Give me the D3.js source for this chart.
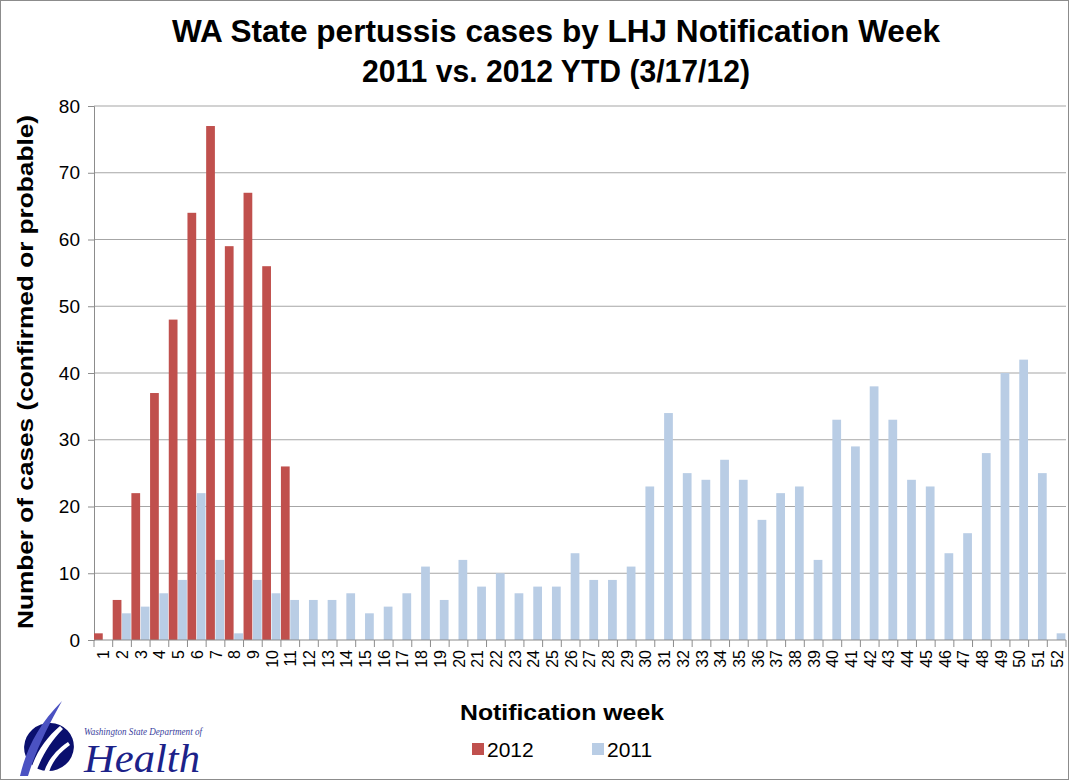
<!DOCTYPE html>
<html>
<head>
<meta charset="utf-8">
<script src="https://cdn.jsdelivr.net/npm/d3@7"></script>
<style>
  body { margin: 0; background: #fff; }
  text { font-family: "Liberation Sans", Arial, sans-serif; }
</style>
</head>
<body>
<svg id="chart" width="1070" height="782"></svg>
<script>
// weeks 1..52
const weeks = d3.range(1, 53).map(String);
// 2012 YTD, weeks 1-11
const cases2012 = [1, 6, 22, 37, 48, 64, 77, 59, 67, 56, 26];
// 2011, weeks 1-52
const cases2011 = [0, 4, 5, 7, 9, 22, 12, 1, 9, 7, 6, 6, 6, 7, 4, 5, 7, 11, 6, 12,
  8, 10, 7, 8, 8, 13, 9, 9, 11, 23, 34, 25, 24, 27, 24, 18, 22, 23, 12, 33,
  29, 38, 33, 24, 23, 13, 16, 28, 40, 42, 25, 1];
const yTicks = [0, 10, 20, 30, 40, 50, 60, 70, 80];
const seriesNames = ["2012", "2011"];
const colors = {"2012": "#C0504D", "2011": "#B9CDE5"};

const svg = d3.select("#chart");

// outer frame
svg.append("rect")
    .attr("x", 0.5).attr("y", 0.5)
    .attr("width", 1068).attr("height", 779)
    .attr("fill", "white")
    .attr("stroke", "#8c8c8c");

const margin = {left: 94, right: 1066, top: 106, bottom: 640};

let x = d3.scaleBand()
    .domain(weeks)
    .range([margin.left, margin.right])
    .paddingInner(0).paddingOuter(0);

let xSeries = d3.scaleBand()
    .domain(seriesNames)
    .range([0, x.bandwidth()])
    .padding(0);

let y = d3.scaleLinear()
    .domain([0, 80])
    .range([margin.bottom, margin.top]);

// gridlines
svg.append("g")
    .selectAll("line")
    .data(yTicks.filter(d => d > 0))
    .enter()
    .append("line")
    .attr("x1", margin.left).attr("x2", margin.right)
    .attr("y1", d => y(d)).attr("y2", d => y(d))
    .attr("stroke", "#a6a6a6")
    .attr("stroke-width", 1.2);

// y axis
let yAxis = svg.append("g")
    .attr("transform", `translate(${margin.left},0)`)
    .call(d3.axisLeft(y).tickValues(yTicks).tickSize(6).tickPadding(8));
yAxis.select(".domain").attr("stroke", "#8c8c8c");
yAxis.selectAll(".tick line").attr("stroke", "#8c8c8c");
yAxis.selectAll(".tick text")
    .attr("font-size", 19)
    .attr("fill", "#000")
    .style("font-family", "'Liberation Sans', Arial, sans-serif");

// bars
let data = [];
weeks.forEach((w, i) => {
    if (i < cases2012.length) data.push({week: w, series: "2012", value: cases2012[i]});
    data.push({week: w, series: "2011", value: cases2011[i]});
});

svg.append("g")
    .selectAll("rect")
    .data(data.filter(d => d.value > 0))
    .enter()
    .append("rect")
    .attr("x", d => x(d.week) + xSeries(d.series))
    .attr("width", xSeries.bandwidth() - 0.6)
    .attr("y", d => y(d.value))
    .attr("height", d => y(0) - y(d.value))
    .attr("fill", d => colors[d.series]);

// x axis
let xAxisG = svg.append("g")
    .attr("transform", `translate(0,${margin.bottom})`);
xAxisG.append("line")
    .attr("x1", margin.left).attr("x2", margin.right)
    .attr("stroke", "#8c8c8c");
xAxisG.selectAll(".tk")
    .data(weeks.concat(["end"]))
    .enter()
    .append("line")
    .attr("x1", (d, i) => margin.left + i * x.step())
    .attr("x2", (d, i) => margin.left + i * x.step())
    .attr("y1", 0).attr("y2", 7)
    .attr("stroke", "#8c8c8c");
xAxisG.selectAll(".lbl")
    .data(weeks)
    .enter()
    .append("text")
    .attr("transform", d => `translate(${x(d) + x.bandwidth() / 2 + 6},10) rotate(-90)`)
    .attr("text-anchor", "end")
    .attr("font-size", 16)
    .text(d => d);

// titles (condensed look of the original)
svg.append("text")
    .attr("x", 556).attr("y", 42)
    .attr("text-anchor", "middle")
    .attr("font-size", 32).attr("font-weight", "bold")
    .attr("textLength", 768).attr("lengthAdjust", "spacingAndGlyphs")
    .text("WA State pertussis cases by LHJ Notification Week");
svg.append("text")
    .attr("x", 556).attr("y", 82)
    .attr("text-anchor", "middle")
    .attr("font-size", 32).attr("font-weight", "bold")
    .attr("textLength", 388).attr("lengthAdjust", "spacingAndGlyphs")
    .text("2011 vs. 2012 YTD (3/17/12)");

svg.append("text")
    .attr("transform", "translate(33,372) rotate(-90)")
    .attr("text-anchor", "middle")
    .attr("font-size", 22).attr("font-weight", "bold")
    .attr("textLength", 514).attr("lengthAdjust", "spacingAndGlyphs")
    .text("Number of cases (confirmed or probable)");

svg.append("text")
    .attr("x", 562).attr("y", 720)
    .attr("text-anchor", "middle")
    .attr("font-size", 22).attr("font-weight", "bold")
    .attr("textLength", 204).attr("lengthAdjust", "spacingAndGlyphs")
    .text("Notification week");

// legend
let legend = svg.append("g");
let lx = [472, 592];
seriesNames.forEach((s, i) => {
    legend.append("rect")
        .attr("x", lx[i]).attr("y", 743)
        .attr("width", 12).attr("height", 12)
        .attr("fill", colors[s]);
    legend.append("text")
        .attr("x", lx[i] + 15).attr("y", 757)
        .attr("font-size", 21)
        .text(s);
});

// logo (rough sketch of the DOH mark)
let logo = svg.append("g");
logo.append("ellipse")
    .attr("cx", 49).attr("cy", 747)
    .attr("rx", 25).attr("ry", 24)
    .attr("transform", "rotate(-20 49 747)")
    .attr("fill", "#0a0f6e");
logo.append("path")
    .attr("d", "M30,772 C36,752 46,738 60,726 L63,729 C50,742 42,756 36,772 Z")
    .attr("fill", "#ffffff");
logo.append("path")
    .attr("d", "M44,772 C48,760 56,750 68,742 L70,745 C59,753 52,762 49,772 Z")
    .attr("fill", "#ffffff");
logo.append("path")
    .attr("d", "M20,776 C26,750 38,725 62,701 C48,726 36,750 28,776 Z")
    .attr("fill", "#4b52c2");
logo.append("text")
    .attr("x", 84).attr("y", 735)
    .attr("font-size", 10.5).attr("font-style", "italic")
    .attr("fill", "#3b3f9e")
    .style("font-family", "'Liberation Serif', 'DejaVu Serif', serif")
    .attr("textLength", 118).attr("lengthAdjust", "spacingAndGlyphs")
    .text("Washington State Department of");
logo.append("text")
    .attr("x", 84).attr("y", 772)
    .attr("font-size", 40).attr("font-style", "italic")
    .attr("fill", "#1c2289")
    .style("font-family", "'Liberation Serif', 'DejaVu Serif', serif")
    .attr("textLength", 116).attr("lengthAdjust", "spacingAndGlyphs")
    .text("Health");
</script>
</body>
</html>
